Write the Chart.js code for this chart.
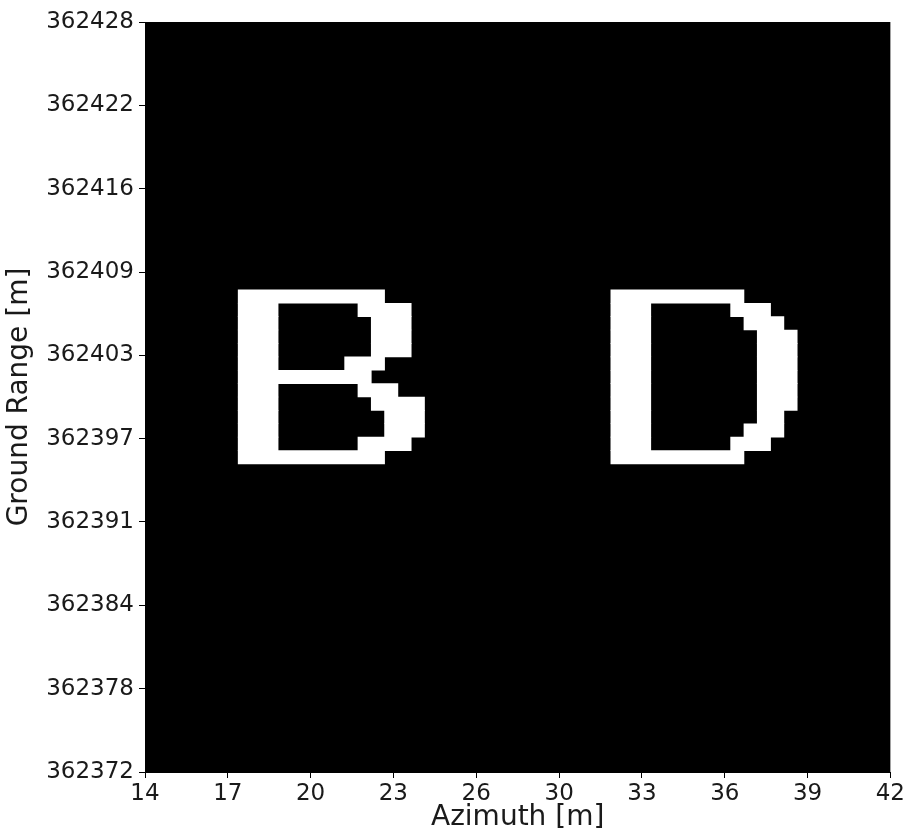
<!DOCTYPE html>
<html>
<head>
<meta charset="utf-8">
<script src="https://cdn.jsdelivr.net/npm/chart.js@4.4.1/dist/chart.umd.min.js"></script>
<style>
  body { margin: 0; background: #fff; }
  canvas { display: block; }
</style>
</head>
<body>
<canvas id="grafico" width="907" height="832"></canvas>
<script>
// image extent (m)
const azimuthMin = 14, azimuthMax = 42;
const rangeMin = 362372, rangeMax = 362428;

// tick positions and the rounded labels shown for them
const xTicks = [14, 17.11, 20.22, 23.33, 26.44, 29.56, 32.67, 35.78, 38.89, 42];
const xLabels = ['14', '17', '20', '23', '26', '30', '33', '36', '39', '42'];
const yTicks = [362372, 362378.22, 362384.44, 362390.67, 362396.89, 362403.11, 362409.33, 362415.56, 362421.78, 362428];
const yLabels = ['362372', '362378', '362384', '362391', '362397', '362403', '362409', '362416', '362422', '362428'];

// ground range at the centre of each image row holding bright pixels, top to bottom
const groundRange = [362407.5, 362406.5, 362405.5, 362404.5, 362403.5, 362402.5, 362401.5,
                     362400.5, 362399.5, 362398.5, 362397.5, 362396.5, 362395.5];

// bright pixel runs on each row, azimuth [from, to]
const letterB = [
    [[17.5, 23.0]],
    [[17.5, 19.0], [22.0, 24.0]],
    [[17.5, 19.0], [22.5, 24.0]],
    [[17.5, 19.0], [22.5, 24.0]],
    [[17.5, 19.0], [22.5, 24.0]],
    [[17.5, 19.0], [21.5, 23.0]],
    [[17.5, 22.5]],
    [[17.5, 19.0], [22.0, 23.5]],
    [[17.5, 19.0], [22.5, 24.5]],
    [[17.5, 19.0], [23.0, 24.5]],
    [[17.5, 19.0], [23.0, 24.5]],
    [[17.5, 19.0], [22.0, 24.0]],
    [[17.5, 23.0]]
];
const letterD = [
    [[31.5, 36.5]],
    [[31.5, 33.0], [36.0, 37.5]],
    [[31.5, 33.0], [36.5, 38.0]],
    [[31.5, 33.0], [37.0, 38.5]],
    [[31.5, 33.0], [37.0, 38.5]],
    [[31.5, 33.0], [37.0, 38.5]],
    [[31.5, 33.0], [37.0, 38.5]],
    [[31.5, 33.0], [37.0, 38.5]],
    [[31.5, 33.0], [37.0, 38.5]],
    [[31.5, 33.0], [37.0, 38.0]],
    [[31.5, 33.0], [36.5, 38.0]],
    [[31.5, 33.0], [36.0, 37.5]],
    [[31.5, 36.5]]
];

// one dataset per run slot, each run a floating horizontal bar
function montarDatasets(letra) {
    const sets = [];
    for (let k = 0; k < 2; k++) {
        const data = [];
        letra.forEach((runs, i) => {
            if (runs[k]) data.push({ x: runs[k], y: groundRange[i] });
        });
        sets.push({
            data,
            backgroundColor: '#ffffff',
            borderWidth: 0,
            grouped: false,
            categoryPercentage: 1,
            barPercentage: 1
        });
    }
    return sets;
}

// black image background behind the pixels
const fundoImagem = {
    id: 'fundoImagem',
    beforeDatasetsDraw(chart) {
        const { ctx, chartArea: a } = chart;
        ctx.save();
        ctx.fillStyle = '#000';
        ctx.fillRect(a.left, a.top, a.right - a.left, a.bottom - a.top);
        ctx.restore();
    }
};

const fonteTick = { family: 'DejaVu Sans', size: 23 };
const fonteTitulo = { family: 'DejaVu Sans', size: 28 };

new Chart(document.getElementById('grafico'), {
    type: 'bar',
    data: { datasets: [...montarDatasets(letterB), ...montarDatasets(letterD)] },
    options: {
        indexAxis: 'y',
        responsive: false,
        animation: false,
        layout: { padding: { top: 22, right: 15, left: 0, bottom: 0 } },
        plugins: { legend: { display: false }, tooltip: { enabled: false } },
        scales: {
            x: {
                type: 'linear',
                min: azimuthMin,
                max: azimuthMax,
                afterBuildTicks: (s) => { s.ticks = xTicks.map(v => ({ value: v })); },
                afterFit: (s) => { s.height = 60; },
                ticks: {
                    autoSkip: false,
                    maxRotation: 0,
                    padding: 2,
                    color: '#1a1a1a',
                    font: fonteTick,
                    callback: (v, i) => xLabels[i]
                },
                grid: { drawOnChartArea: false, drawTicks: true, tickLength: 6, tickColor: '#000', offset: false },
                border: { color: '#000' },
                title: { display: true, text: 'Azimuth [m]', color: '#1a1a1a', font: fonteTitulo, padding: { top: 0, bottom: -3 } }
            },
            y: {
                type: 'linear',
                min: rangeMin,
                max: rangeMax,
                offset: false,
                afterBuildTicks: (s) => { s.ticks = yTicks.map(v => ({ value: v })); },
                afterFit: (s) => { s.width = 145; },
                ticks: {
                    autoSkip: false,
                    padding: 5,
                    color: '#1a1a1a',
                    font: fonteTick,
                    callback: (v, i) => yLabels[i]
                },
                grid: { drawOnChartArea: false, drawTicks: true, tickLength: 6, tickColor: '#000', offset: false },
                border: { color: '#000' },
                title: { display: true, text: 'Ground Range [m]', color: '#1a1a1a', font: fonteTitulo, padding: { top: 3, bottom: 0 } }
            }
        }
    },
    plugins: [fundoImagem]
});
</script>
</body>
</html>
